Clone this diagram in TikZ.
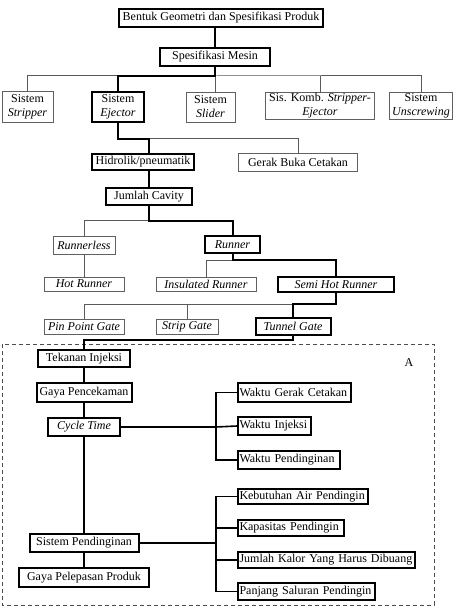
\documentclass[tikz,border=0pt]{standalone}
\usepackage{fontspec}
\setmainfont{Liberation Serif}
\usepackage{tikz}

\begin{document}
\begin{tikzpicture}[x=1pt, y=-1pt,
  kotak/.style = {shape=rectangle, draw=gray!75!black, line width=0.8pt,
    inner sep=0pt, align=center, font=\fontsize{12}{14}\selectfont},
  tebal/.style = {kotak, draw=black, line width=2pt},
  kiri/.style = {tebal, anchor=west, inner xsep=1.5pt, align=left},
  jalur/.style = {draw=black, line width=2pt},
  cabang/.style = {draw=gray!70!black, line width=1pt},
  garis/.style = {draw=black, line width=1.6pt}]
  \fill[white] (0,0) rectangle (454,609);
  % bagian atas
  \node[tebal, minimum width=204, minimum height=18] (geo) at (221,18) {Bentuk Geometri dan Spesifikasi Produk};
  \node[tebal, minimum width=110, minimum height=18] (spek) at (215,57) {Spesifikasi Mesin};
  \node[kotak, minimum width=51, minimum height=31] (stripper) at (27.5,106.5) {Sistem\\ \textit{Stripper}};
  \node[tebal, minimum width=52, minimum height=30] (ejector) at (118,107) {Sistem\\ \textit{Ejector}};
  \node[kotak, minimum width=49, minimum height=30] (slider) at (210.5,107) {Sistem\\ \textit{Slider}};
  \node[kotak, minimum width=109, minimum height=27] (komb) at (320,105.5) {Sis. Komb. \textit{Stripper-}\\ \textit{Ejector}};
  \node[kotak, minimum width=63, minimum height=27] (unscrew) at (421,105.5) {Sistem\\ \textit{Unscrewing}};
  \node[tebal, minimum width=102, minimum height=16] (hidrolik) at (143,162) {Hidrolik/pneumatik};
  \node[kotak, minimum width=119, minimum height=18] (gerak) at (298,162) {Gerak Buka Cetakan};
  \node[tebal, minimum width=86, minimum height=17] (jumlah) at (149,196.5) {Jumlah Cavity};
  \node[kotak, minimum width=62, minimum height=18] (runnerless) at (84,245) {\textit{Runnerless}};
  \node[tebal, minimum width=55, minimum height=17] (runner) at (232.5,244.5) {\textit{Runner}};
  \node[kotak, minimum width=80, minimum height=14] (hotrunner) at (84,284) {\textit{Hot Runner}};
  \node[kotak, minimum width=100, minimum height=14] (insulated) at (206,284) {\textit{Insulated Runner}};
  \node[tebal, minimum width=116, minimum height=15] (semihot) at (336,284.5) {\textit{Semi Hot Runner}};
  \node[kotak, minimum width=80, minimum height=15] (pinpoint) at (84,326.5) {\textit{Pin Point Gate}};
  \node[kotak, minimum width=62, minimum height=15] (strip) at (187,326.5) {\textit{Strip Gate}};
  \node[tebal, minimum width=75, minimum height=17] (tunnel) at (293,326.5) {\textit{Tunnel Gate}};
  % bagian A
  \node[tebal, minimum width=92, minimum height=17] (tekanan) at (84,358.5) {Tekanan Injeksi};
  \node[tebal, minimum width=95, minimum height=19] (cekam) at (84,392.5) {Gaya Pencekaman};
  \node[tebal, minimum width=72, minimum height=18] (cycle) at (84,427) {\textit{Cycle Time}};
  \node[tebal, minimum width=109, minimum height=18] (sispend) at (84,543) {Sistem Pendinginan};
  \node[tebal, minimum width=130, minimum height=19] (lepas) at (84,577.5) {Gaya Pelepasan Produk};
  \node[kiri, text width=110, minimum height=19] (wgerak) at (237,392.5) {Waktu Gerak Cetakan};
  \node[kiri, text width=70, minimum height=18] (winjeksi) at (237,426) {Waktu Injeksi};
  \node[kiri, text width=99, minimum height=18] (wdingin) at (237,460) {Waktu Pendinginan};
  \node[kiri, text width=127, minimum height=15] (airdingin) at (237,496.5) {Kebutuhan Air Pendingin};
  \node[kiri, text width=103, minimum height=16] (kapasitas) at (237,528) {Kapasitas Pendingin};
  \node[kiri, text width=174, minimum height=16] (kalor) at (237,560) {Jumlah Kalor Yang Harus Dibuang};
  \node[kiri, text width=134, minimum height=17] (saluran) at (237,591.5) {Panjang Saluran Pendingin};
  \node[font=\fontsize{12}{14}\selectfont] (labelA) at (409,363) {A};
  \draw[gray!60!black, line width=1pt, dash pattern=on 4pt off 3pt] (2,344) rectangle (434,605);

  % titik percabangan
  \coordinate (b1) at (215,76);
  \coordinate (b2) at (149,139);
  \coordinate (b3) at (149,221);
  \coordinate (b4) at (232.5,260);
  \coordinate (b5) at (293,304);
  \coordinate (b6) at (84,340);
  \coordinate (k1) at (216,427);
  \coordinate (k2) at (216,543);

  % garis tipis
  \draw[cabang] (stripper.north) |- (b1) -| (unscrew.north);
  \draw[cabang] (slider.north -| b1) -- (b1);
  \draw[cabang] (komb.north) -- (komb.north |- b1);
  \draw[cabang] (gerak.north) |- (b2);
  \draw[cabang] (runnerless.north) |- (b3);
  \draw[cabang] (runnerless.south) -- (hotrunner.north);
  \draw[cabang] (insulated.north) |- (b4);
  \draw[cabang] (pinpoint.north) |- (b5);
  \draw[cabang] (strip.north) -- (strip.north |- b5);

  % jalur terpilih
  \draw[jalur] (geo.south -| spek.north) -- (spek.north);
  \draw[jalur] (spek.south) -- (b1) -| (ejector.north);
  \draw[jalur] (ejector.south) |- (b2) -- (hidrolik.north -| b2);
  \draw[jalur] (hidrolik.south -| jumlah.north) -- (jumlah.north);
  \draw[jalur] (jumlah.south) -- (b3) -| (runner.north);
  \draw[jalur] (runner.south) -- (b4) -| (semihot.north);
  \draw[jalur] (semihot.south) |- (b5) -- (tunnel.north);
  \draw[jalur] (tunnel.south) |- (b6) -- (tekanan.north);

  % di dalam A
  \draw[garis] (tekanan.south) -- (cekam.north);
  \draw[garis] (cekam.south) -- (cycle.north);
  \draw[garis] (cycle.south) -- (sispend.north);
  \draw[garis] (sispend.south) -- (lepas.north);
  \draw[garis] (cycle.east) -- (k1);
  \draw[garis] (wgerak.west) -| (k1) |- (wdingin.west);
  \draw[garis] (k1) -- (winjeksi.west);
  \draw[garis] (sispend.east) -- (k2);
  \draw[garis] (airdingin.west) -| (k2) |- (saluran.west);
  \draw[garis] (kapasitas.west -| k2) -- (kapasitas.west);
  \draw[garis] (kalor.west -| k2) -- (kalor.west);
\end{tikzpicture}
\end{document}
